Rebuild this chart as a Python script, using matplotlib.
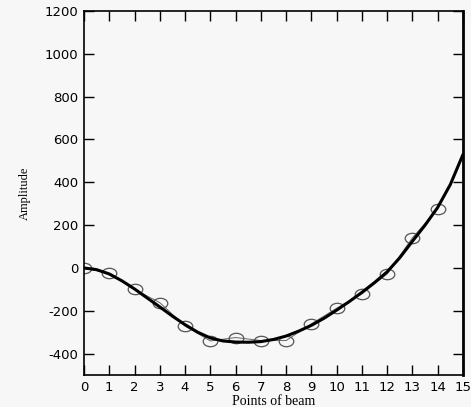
import numpy as np
import matplotlib
matplotlib.use('Agg')
import matplotlib.pyplot as plt
from matplotlib.path import Path
from matplotlib.transforms import Affine2D

plt.rcParams['axes.unicode_minus'] = False

# measured amplitudes (circles)
pts_x = [0, 1, 2, 3, 4, 5, 6, 7, 8, 9, 10, 11, 12, 13, 14]
pts_y = [0, -25, -100, -162, -271, -341, -325, -339, -339, -261, -188, -121, -28, 141, 275]

# fitted curve, read at half steps
fit_x = [0, 0.5, 1, 1.5, 2, 2.5, 3, 3.5, 4, 4.5, 5, 5.5, 6, 6.5, 7, 7.5,
         8, 8.5, 9, 9.5, 10, 10.5, 11, 11.5, 12, 12.5, 13, 13.5, 14, 14.5, 15]
fit_y = [0, -8, -28, -60, -98, -140, -182, -225, -265, -300, -327, -341, -346, -347, -344, -334,
         -318, -295, -268, -235, -197, -157, -114, -68, -18, 48, 125, 200, 283, 390, 530]

xticks = list(range(0, 16))
yticks = [-400, -200, 0, 200, 400, 600, 800, 1000, 1200]

# wide ellipse marker
ellipse = Path.unit_circle().transformed(Affine2D().scale(1.4, 1.0))

fig = plt.figure(figsize=(4.71, 4.07), dpi=100, facecolor='#f7f7f7')
ax = fig.add_axes([0.1783, 0.0786, 0.8047, 0.8943])
ax.set_facecolor('#f7f7f7')

ax.plot(pts_x, pts_y, color='#666666', linewidth=0.7,
        marker=ellipse, markersize=10.5, markerfacecolor='none',
        markeredgecolor='#555555', markeredgewidth=0.9)
ax.plot(fit_x, fit_y, color='black', linewidth=2.2, solid_capstyle='round')

ax.set_xlim(0, 15)
ax.set_ylim(-500, 1200)
ax.set_xticks(xticks)
ax.set_yticks(yticks)
ax.tick_params(direction='in', length=7, width=1, labelsize=9.5,
               top=True, right=True, pad=4)
for s in ax.spines.values():
    s.set_linewidth(1.2)
ax.spines['right'].set_linewidth(2)

ax.set_xlabel('Points of beam', fontfamily='Liberation Serif', fontsize=10, labelpad=1)
ax.set_ylabel('Amplitude', fontfamily='Liberation Serif', fontsize=9, labelpad=10)

fig.savefig('out.png', dpi=100, facecolor=fig.get_facecolor())
